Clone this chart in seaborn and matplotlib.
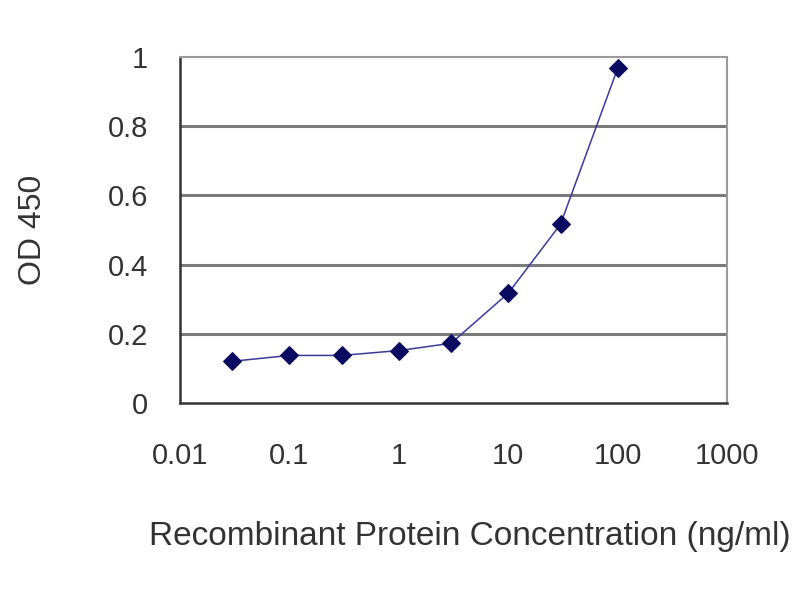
import matplotlib
matplotlib.use("Agg")
import matplotlib.pyplot as plt
import seaborn as sns
import pandas as pd

# concentration (ng/ml) and OD450 readings
concentration = [0.03, 0.1, 0.3, 1, 3, 10, 30, 100]
od450 = [0.121, 0.138, 0.138, 0.152, 0.173, 0.318, 0.517, 0.968]
x_ticks = [0.01, 0.1, 1, 10, 100, 1000]
x_tick_labels = ["0.01", "0.1", "1", "10", "100", "1000"]
y_ticks = [0, 0.2, 0.4, 0.6, 0.8, 1]
y_tick_labels = ["0", "0.2", "0.4", "0.6", "0.8", "1"]

df = pd.DataFrame({"conc": concentration, "od": od450})

sns.set_style("white")
plt.rcParams['font.family'] = ['Liberation Sans', 'DejaVu Sans']

fig = plt.figure(figsize=(8, 6), dpi=100)
ax = fig.add_axes([0.225, 0.328, 0.684, 0.577])

for y in y_ticks[1:-1]:
    ax.axhline(y, color='#7a7a7a', linewidth=2.2, zorder=0)

sns.lineplot(data=df, x="conc", y="od", ax=ax, color='#3a3a9a', linewidth=1.1,
             marker='D', markersize=9.5, markeredgecolor='#0a0a60',
             markerfacecolor='#0a0a60')

ax.set_xscale('log')
ax.set_xlim(0.01, 1000)
ax.set_ylim(0, 1)
ax.set_xticks(x_ticks)
ax.set_xticklabels(x_tick_labels)
ax.minorticks_off()
ax.set_yticks(y_ticks)
ax.set_yticklabels(y_tick_labels)
ax.tick_params(axis='both', direction='in', length=6, width=1.5, color='#333333',
               labelsize=21, labelcolor='#333333')
ax.tick_params(axis='y', pad=23)
ax.tick_params(axis='x', pad=28)

for side in ['top', 'right']:
    ax.spines[side].set_color('#9a9a9a')
    ax.spines[side].set_linewidth(1.5)
for side in ['left', 'bottom']:
    ax.spines[side].set_color('#333333')
    ax.spines[side].set_linewidth(1.8)

ax.set_xlabel('Recombinant Protein Concentration (ng/ml)', fontsize=24,
              color='#333333', labelpad=40)
ax.xaxis.set_label_coords(0.53, -0.34)
ax.set_ylabel('OD 450', fontsize=23, color='#333333', labelpad=43)

fig.savefig('out.png', dpi=100)
